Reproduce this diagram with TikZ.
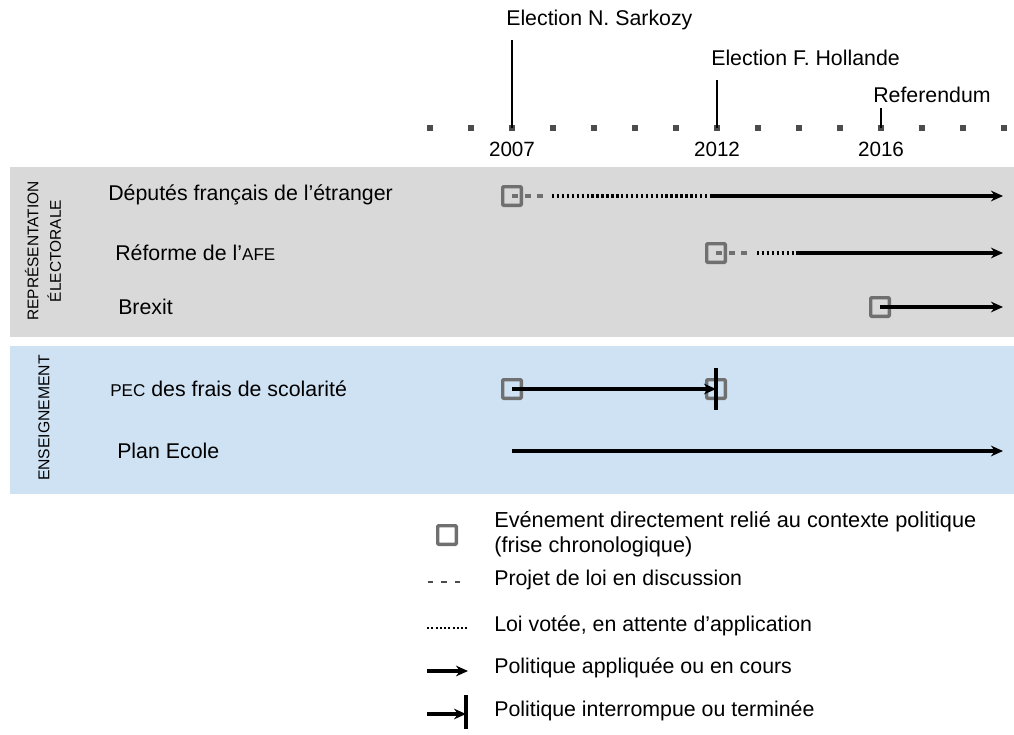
\documentclass[tikz,border=0pt]{standalone}
\usepackage{fontspec}
\setmainfont{Liberation Sans}
\usetikzlibrary{arrows.meta}
\definecolor{bandgray}{HTML}{D9D9D9}
\definecolor{bandblue}{HTML}{CFE2F3}
\definecolor{evtgray}{HTML}{707070}
\newcommand{\petit}[1]{{\fontsize{12.8}{14}\selectfont #1}}
\begin{document}
\begin{tikzpicture}[x=0.75pt, y=-0.75pt, font=\fontsize{16}{18}\selectfont, line join=round, >={Stealth[length=9pt,width=8pt]},
	evt/.style={draw=evtgray, line width=2.5pt, minimum size=14pt, inner sep=0pt, rounded corners=0.6pt},
	tick/.style={fill=black!70, minimum size=4.5pt, inner sep=0pt},
	proj/.style={draw=evtgray, line width=2.6pt, dash pattern=on 4.5pt off 5pt},
	vote/.style={line width=2.8pt, dash pattern=on 1.8pt off 1.9pt},
	appl/.style={line width=2.6pt, ->},
	stopbar/.style={line width=2.4pt},
	lab/.style={anchor=west, inner sep=0pt},
	cat/.style={rotate=90, align=center, inner sep=0pt, font=\fontsize{11.6}{17}\selectfont}]
	\useasboundingbox (0,0) rectangle (1014,735);
	%%%%%%%%%%%%%%%%%%%%%%%%%%%%%%%%%
	\fill[bandgray] (10,167) rectangle (1014,337);
	\fill[bandblue] (10,346) rectangle (1014,494);
	%%%%%%%%%%%%%%%%%%%%%%%%%%%%%%%%%
	\foreach \a in {2005,...,2019}
		\node[tick] (t\a) at ({512+41*(\a-2007)},128) {};
	\foreach \a in {2007,2012,2016}
		\node[font=\fontsize{15.5}{18}\selectfont] (an\a) at ({512+41*(\a-2007)},149) {\a};
	%%%%%%%%%%%%%%%%%%%%%%%%%%%%%%%%%
	\node[lab] (sarko) at (506,20) {Election N. Sarkozy};
	\node[lab] (holl) at (711,58) {Election F. Hollande};
	\node[lab] (refer) at (873,95) {Referendum};
	\coordinate (sarkotop) at (512,40);
	\coordinate (holltop) at (717,80);
	\coordinate (refertop) at (881,108);
	\draw[line width=2pt] (t2007.center) -- (sarkotop);
	\draw[line width=2pt] (t2012.center) -- (holltop);
	\draw[line width=1.2pt] (t2016.center) -- (refertop);
	%%%%%%%%%%%%%%%%%%%%%%%%%%%%%%%%%
	\node[cat] (repr) at (43,251) {REPRÉSENTATION\\ÉLECTORALE};
	\node[cat, font=\fontsize{11.8}{17}\selectfont] (ens) at (44,418) {ENSEIGNEMENT};
	%%%%%%%%%%%%%%%%%%%%%%%%%%%%%%%%%
	\node[lab] (l1) at (108,195) {Députés français de l’étranger};
	\node[lab] (l2) at (115,253) {Réforme de l’\petit{AFE}};
	\node[lab] (l3) at (118,307) {Brexit};
	\node[lab] (l4) at (110,389) {\petit{PEC} des frais de scolarité};
	\node[lab] (l5) at (117,451) {Plan Ecole};
	%%%%%%%%%%%%%%%%%%%%%%%%%%%%%%%%%
	\node[evt] (s1) at (512,196) {};
	\node[evt] (s2) at (716,253) {};
	\node[evt] (s3) at (880,307) {};
	\node[evt] (s4) at (512,389) {};
	\node[evt] (s5) at (716,389) {};
	%%%%%%%%%%%%%%%%%%%%%%%%%%%%%%%%%
	\coordinate (r1a) at (548,196);
	\coordinate (r1b) at (552,196);
	\coordinate (r1c) at (711,196);
	\coordinate (r1e) at (1003,196);
	\coordinate (r2a) at (752,253);
	\coordinate (r2b) at (757,253);
	\coordinate (r2c) at (797,253);
	\coordinate (r2e) at (1003,253);
	\coordinate (r3e) at (1003,307);
	\coordinate (r4top) at (716,368);
	\coordinate (r4bot) at (716,410);
	\coordinate (r5a) at (512,451);
	\coordinate (r5e) at (1003,451);
	%%%%%%%%%%%%%%%%%%%%%%%%%%%%%%%%%
	\draw[proj] (s1.center) -- (r1a);
	\draw[vote] (r1b) -- (r1c);
	\draw[appl] (r1c) -- (r1e);
	\draw[proj] (s2.center) -- (r2a);
	\draw[vote] (r2b) -- (r2c);
	\draw[appl] (r2c) -- (r2e);
	\draw[appl] (s3.center) -- (r3e);
	\draw[appl] (s4.center) -- (s5.center);
	\draw[stopbar] (r4top) -- (r4bot);
	\draw[appl] (r5a) -- (r5e);
	%%%%%%%%%%%%%%%%%%%%%%%%%%%%%%%%%
	\node[evt] (leg1) at (447,535) {};
	\node[lab, align=left, font=\fontsize{16.3}{19}\selectfont] (lt1) at (494,534) {Evénement directement relié au contexte politique\\(frise chronologique)};
	\node[lab] (lt2) at (494,580) {Projet de loi en discussion};
	\node[lab] (lt3) at (494,626) {Loi votée, en attente d’application};
	\node[lab] (lt4) at (494,668) {Politique appliquée ou en cours};
	\node[lab] (lt5) at (494,711) {Politique interrompue ou terminée};
	\coordinate (g2a) at (428,582);
	\coordinate (g2b) at (461,582);
	\coordinate (g3a) at (427,628);
	\coordinate (g3b) at (467,628);
	\coordinate (g4a) at (427,671);
	\coordinate (g4b) at (468,671);
	\coordinate (g5a) at (427,714);
	\coordinate (g5b) at (466,714);
	\coordinate (g5top) at (466,695);
	\coordinate (g5bot) at (466,729);
	\draw[line width=1.8pt, draw=black!70, dash pattern=on 4pt off 6pt] (g2a) -- (g2b);
	\draw[line width=2.2pt, dash pattern=on 1.6pt off 1.6pt] (g3a) -- (g3b);
	\draw[appl] (g4a) -- (g4b);
	\draw[appl] (g5a) -- (g5b);
	\draw[stopbar] (g5top) -- (g5bot);
\end{tikzpicture}
\end{document}
